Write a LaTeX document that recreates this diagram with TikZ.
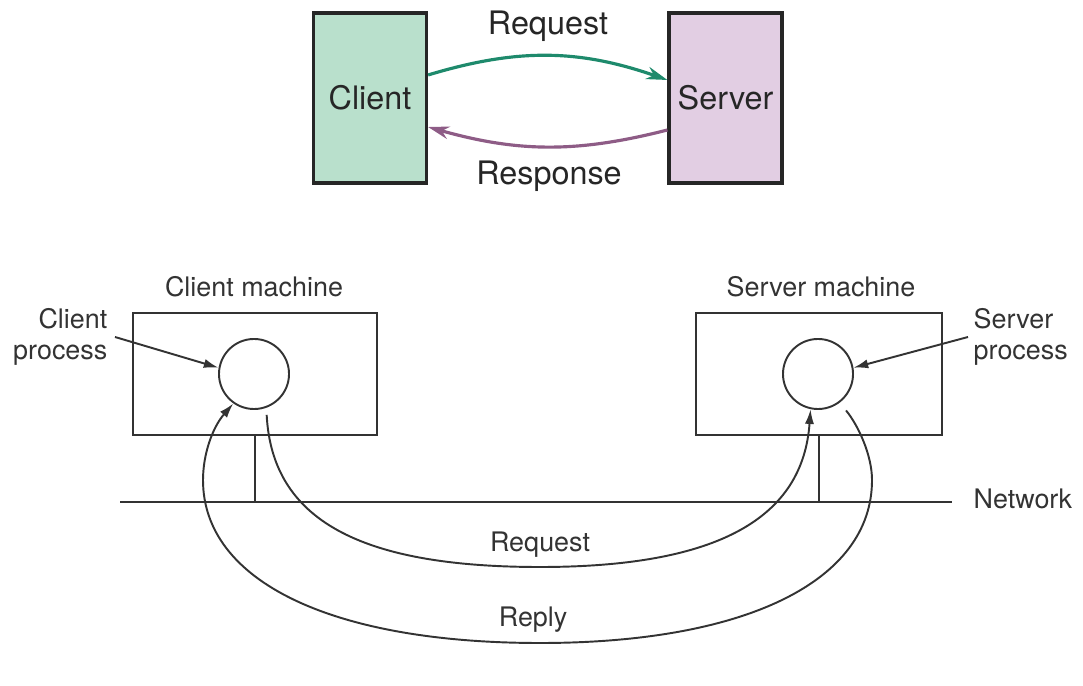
\documentclass[tikz,border=0pt]{standalone}
\usepackage{fontspec}
\setmainfont{TeX Gyre Heros}
\usetikzlibrary{arrows.meta}

\definecolor{clientgruen}{HTML}{B9E0CC}
\definecolor{serverlila}{HTML}{E2CEE3}
\definecolor{pfeilgruen}{HTML}{1E8A6C}
\definecolor{pfeillila}{HTML}{8E5C86}

\tikzset{
	kasten/.style={draw=black!85, line width=0.9pt, minimum width=1.13cm, minimum height=1.70cm, inner sep=0pt},
	gross/.style={font=\fontsize{9.2}{11}\selectfont, text=black!85},
	klein/.style={font=\fontsize{7.65}{8.6}\selectfont, text=black!80},
	linie/.style={draw=black!80, line width=0.55pt},
	pfeil/.style={-{Latex[length=4.2pt,width=2.6pt]}},
	bogen/.style={line width=0.9pt, -{Stealth[length=6pt,width=3.6pt]}}
}

\begin{document}
\begin{tikzpicture}[x=0.01cm, y=-0.01cm]
		\useasboundingbox (0,0) rectangle (1083,686);
		
		% Oben: Client und Server
		\node[kasten, fill=clientgruen, gross] (client) at (370,98) {Client};
		\node[kasten, fill=serverlila, gross] (server) at (725.5,98) {Server};
		
		\draw[bogen, pfeilgruen] ([yshift=2.3mm]client.east) to[bend left=18] ([yshift=1.8mm]server.west);
		\draw[bogen, pfeillila] ([yshift=-3.2mm]server.west) to[bend left=15] ([yshift=-2.9mm]client.east);
		
		\node[gross] (anfrage) at (548,26) {Request};
		\node[gross] (antwort) at (549,176) {Response};
		
		% Unten: Rechner, Prozesse und Netzwerk
		\node[linie, minimum width=2.44cm, minimum height=1.22cm] (cmach) at (255,374) {};
		\node[linie, minimum width=2.46cm, minimum height=1.22cm] (smach) at (819,374) {};
		\node[klein] (cmlab) at (254,287) {Client machine};
		\node[klein] (smlab) at (821,287) {Server machine};
		
		\node[linie, circle, minimum size=0.70cm, inner sep=0pt] (cproc) at (254,374) {};
		\node[linie, circle, minimum size=0.70cm, inner sep=0pt] (sproc) at (818,374) {};
		
		\node[klein, align=right, anchor=east, inner sep=0pt] (cplab) at (108,337) {Client\\process};
		\node[klein, align=left, anchor=west, inner sep=0pt] (splab) at (973,337) {Server\\process};
		\draw[linie, pfeil] ([xshift=0.7mm]cplab.east) -- (cproc.170);
		\draw[linie, pfeil] ([xshift=-0.5mm]splab.west) -- (sproc.10);
		
		% Netzwerk
		\coordinate (netl) at (120,502);
		\coordinate (netr) at (952,502);
		\draw[linie] (netl) -- (netr);
		\node[klein, anchor=west, inner sep=0pt] (netlab) at (973,499) {Network};
		\draw[linie] (cmach.south) -- (cmach.south |- netl);
		\draw[linie] (smach.south) -- (smach.south |- netl);
		
		% Anfrage und Antwort
		\draw[linie, pfeil, shorten <=0.7mm] (cproc.-70) .. controls (272,520) and (360,567) .. (540,567)
			.. controls (720,567) and (803,517) .. (sproc.-102);
		\draw[linie, pfeil, shorten <=1mm] (sproc.-53) .. controls (858,425) and (872,455) .. (872,480)
			.. controls (872,581) and (746,643) .. (540,643)
			.. controls (331,643) and (203,581) .. (203,480)
			.. controls (203,455) and (212,428) .. (cproc.-125);
		\node[klein] (reqlab) at (540,545) {Request};
		\node[klein] (replab) at (533,620) {Reply};
		
	\end{tikzpicture}
\end{document}
